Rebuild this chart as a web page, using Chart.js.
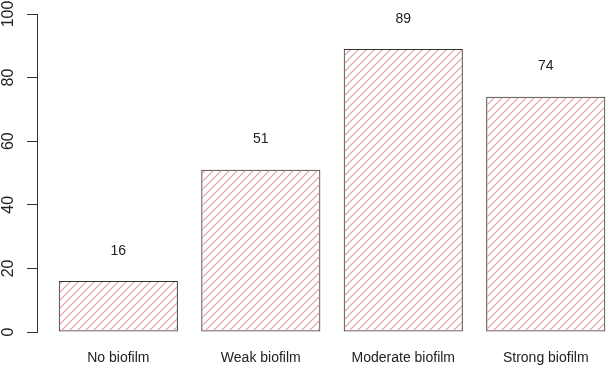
<!DOCTYPE html>
<html lang="en">
<head>
    <meta charset="UTF-8">
    <title>Biofilm formation</title>
    <script src="https://cdn.jsdelivr.net/npm/chart.js"></script>
    <style>
        html, body { margin: 0; padding: 0; background: #ffffff; overflow: hidden; }
        #chart { display: block; }
    </style>
</head>
<body>
    <canvas id="chart" width="608" height="373"></canvas>

    <script>
        // data
        const categories = ["No biofilm", "Weak biofilm", "Moderate biofilm", "Strong biofilm"];
        const counts = [16, 51, 89, 74];
        const yTicks = [0, 20, 40, 60, 80, 100];

        const FONT = "'Liberation Sans', Arial, sans-serif";

        // diagonal hatch like R's density/angle fill
        function makeHatch() {
            const s = 8;
            const c = document.createElement("canvas");
            c.width = s; c.height = s;
            const g = c.getContext("2d");
            g.strokeStyle = "#e69a9a";
            g.lineWidth = 1.1;
            g.beginPath();
            g.moveTo(0, s); g.lineTo(s, 0);
            g.moveTo(-1, 1); g.lineTo(1, -1);
            g.moveTo(s - 1, s + 1); g.lineTo(s + 1, s - 1);
            g.stroke();
            return document.getElementById("chart").getContext("2d").createPattern(c, "repeat");
        }

        // rotated y tick labels (R las=0 style)
        const yLabels = {
            id: "yLabels",
            afterDraw(chart) {
                const y = chart.scales.y;
                const ctx = chart.ctx;
                ctx.save();
                ctx.fillStyle = "#222";
                ctx.font = "16px " + FONT;
                ctx.textAlign = "center";
                ctx.textBaseline = "middle";
                y.ticks.forEach(t => {
                    ctx.save();
                    ctx.translate(8.5, y.getPixelForValue(t.value));
                    ctx.rotate(-Math.PI / 2);
                    ctx.fillText(String(t.value), 0, 0);
                    ctx.restore();
                });
                ctx.restore();
            }
        };

        // count labels above each bar
        const valueLabels = {
            id: "valueLabels",
            afterDatasetsDraw(chart) {
                const meta = chart.getDatasetMeta(0);
                const y = chart.scales.y;
                const ctx = chart.ctx;
                ctx.save();
                ctx.fillStyle = "#222";
                ctx.font = "14px " + FONT;
                ctx.textAlign = "center";
                ctx.textBaseline = "middle";
                meta.data.forEach((bar, i) => {
                    ctx.fillText(String(counts[i]), bar.x, y.getPixelForValue(counts[i] + 9.5));
                });
                ctx.restore();
            }
        };

        new Chart(document.getElementById("chart"), {
            type: "bar",
            data: {
                datasets: [{
                    data: categories.map((c, i) => ({ x: i, y: counts[i] })),
                    backgroundColor: makeHatch(),
                    borderColor: "#333",
                    borderWidth: 1,
                    borderSkipped: false,
                    barPercentage: 1,
                    categoryPercentage: 0.836
                }]
            },
            options: {
                responsive: false,
                animation: false,
                layout: { padding: { top: 14, right: 0, left: 0, bottom: 0 } },
                plugins: { legend: { display: false }, tooltip: { enabled: false } },
                scales: {
                    x: {
                        type: "linear",
                        offset: false,
                        min: -0.571,
                        max: 3.437,
                        afterBuildTicks: s => { s.ticks = categories.map((c, i) => ({ value: i })); },
                        afterFit: s => { s.height = 41; },
                        grid: { display: false, offset: false },
                        border: { display: false },
                        ticks: {
                            padding: 10,
                            color: "#222",
                            font: { family: FONT, size: 14 },
                            maxRotation: 0,
                            autoSkip: false,
                            callback: v => categories[v]
                        }
                    },
                    y: {
                        min: 0,
                        max: 100,
                        afterBuildTicks: s => { s.ticks = yTicks.map(v => ({ value: v })); },
                        afterFit: s => { s.width = 37; },
                        grid: { drawOnChartArea: false, drawTicks: true, tickLength: 10, color: "#333" },
                        border: { display: true, color: "#333", width: 1 },
                        ticks: { display: false }
                    }
                }
            },
            plugins: [yLabels, valueLabels]
        });
    </script>
</body>
</html>
